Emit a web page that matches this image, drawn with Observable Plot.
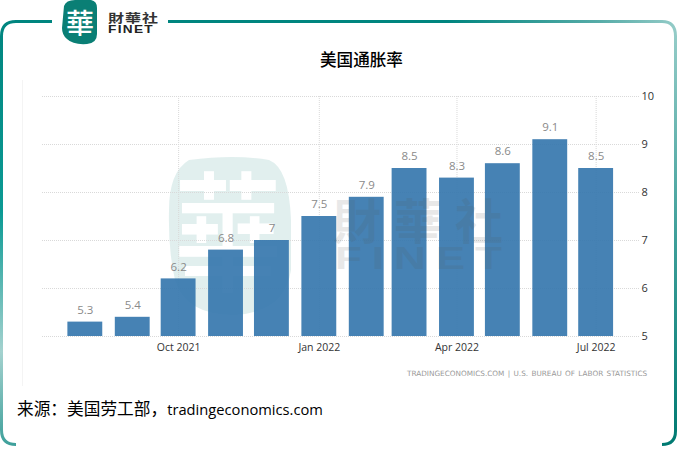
<!DOCTYPE html>
<html><head><meta charset="utf-8">
<script src="https://cdn.jsdelivr.net/npm/d3@7"></script>
<script src="https://cdn.jsdelivr.net/npm/@observablehq/plot@0.6"></script>
<style>
html,body{margin:0;padding:0;background:#fff}
#page{position:relative;width:678px;height:466px;overflow:hidden;font-family:"Noto Sans CJK SC","Noto Sans",sans-serif}
#page>*{position:absolute}
#chart{left:0;top:0}
#title{left:320px;top:49px;font-size:16.6px;font-weight:500;color:#000;line-height:20px;white-space:nowrap}
#source{left:17px;top:397px;font-size:16.7px;line-height:22px;color:#000;white-space:nowrap}
#source span{font-family:"Open Sans",sans-serif;font-size:14.7px}
#credit{left:407px;top:369px;font:7.3px/10px "DejaVu Sans",sans-serif;color:#999;white-space:nowrap;word-spacing:1px}
.wm{color:#555;opacity:.13;white-space:nowrap;transform-origin:left center}
</style></head><body>
<div id="page">
<svg id="frame" width="678" height="466" style="left:0;top:0">
<defs>
<linearGradient id="gl" x1="0" y1="0" x2="0" y2="1"><stop offset="0" stop-color="#00857f"/><stop offset=".45" stop-color="#0b9a94"/><stop offset=".78" stop-color="#a4d2cf"/><stop offset="1" stop-color="#3fa09b"/></linearGradient>
<linearGradient id="gb" x1="0" y1="0" x2="1" y2="0"><stop offset="0" stop-color="#52aaa6"/><stop offset=".2" stop-color="#00857f"/><stop offset="1" stop-color="#007a72"/></linearGradient>
<linearGradient id="gr" x1="0" y1="0" x2="0" y2="1"><stop offset="0" stop-color="#93cbc7"/><stop offset=".5" stop-color="#3d9e99"/><stop offset="1" stop-color="#007a72"/></linearGradient>
<linearGradient id="gt" x1="0" y1="0" x2="1" y2="0"><stop offset="0" stop-color="#00857f"/><stop offset=".55" stop-color="#00857f"/><stop offset=".85" stop-color="#57aca8"/><stop offset="1" stop-color="#93cbc7"/></linearGradient>
</defs>
<path d="M52 21.5H16Q1.5 21.5 1.5 36V430Q1.5 444.5 16 444.5" fill="none" stroke="url(#gl)" stroke-width="3"/>
<path d="M16 444.5H662" fill="none" stroke="url(#gb)" stroke-width="3"/>
<path d="M662 444.5Q675.5 444.5 675.5 431V36" fill="none" stroke="url(#gr)" stroke-width="3"/>
<path d="M675.5 36Q675.5 21.5 662 21.5H168" fill="none" stroke="url(#gt)" stroke-width="3"/>
<path d="M22.5 80V386" stroke="#f4f4f4" stroke-width="1"/>
</svg>
<svg width="130" height="170" style="left:165px;top:150px"><path d="M4 60Q4 22 24 10Q70 4 104 10Q124 18 126 70V120Q120 162 70 165Q20 165 10 130Q3 100 4 60Z" fill="#0a7f75" opacity=".12"/></svg>
<div style="left:172px;top:150px;width:112px;text-align:center;font:500 108px/150px 'Noto Sans CJK TC';color:#fff;transform:scaleY(1.2)">華</div>
<div id="chart"></div>
<div class="wm" style="left:333px;top:188px;font:700 48px/60px 'Noto Sans CJK TC';letter-spacing:13px">財華社</div>
<div class="wm" style="left:335px;top:239px;font:700 31px/40px 'Liberation Sans';letter-spacing:7px;transform:scaleX(1.42)">FINET</div>
<svg width="42" height="46" style="left:61px;top:0"><path d="M3 6Q5 0 14 0H30Q36 1 36 8V34Q36 43 26 44Q12 45 6 39Q1 35 1 28Z" fill="#0a7f75"/></svg>
<div style="left:64px;top:2px;width:32px;text-align:center;font:500 28px/40px 'Noto Sans CJK TC';color:#fff">華</div>
<div style="left:108px;top:9px;font:700 16px/18px 'Noto Sans CJK TC';color:#333;letter-spacing:1px;white-space:nowrap;transform:scaleY(.78)">財華社</div>
<div style="left:108px;top:23px;font:700 10.5px/13px 'Liberation Sans';color:#222;letter-spacing:1px;white-space:nowrap;transform:scaleX(1.3);transform-origin:left center">FINET</div>
<div id="title">美国通胀率</div>
<div id="credit">TRADINGECONOMICS.COM | U.S. BUREAU OF LABOR STATISTICS</div>
<div id="source">来源：美国劳工部，<span>tradingeconomics.com</span></div>
</div>
<script>
const months=["2021-08-01","2021-09-01","2021-10-01","2021-11-01","2021-12-01","2022-01-01","2022-02-01","2022-03-01","2022-04-01","2022-05-01","2022-06-01","2022-07-01"];
const rates=[5.3,5.4,6.2,6.8,7,7.5,7.9,8.5,8.3,8.6,9.1,8.5];
const rateLabels=["5.3","5.4","6.2","6.8","7","7.5","7.9","8.5","8.3","8.6","9.1","8.5"];
const tickMonths=["2021-10-01","2022-01-01","2022-04-01","2022-07-01"];
const tickLabels=["Oct 2021","Jan 2022","Apr 2022","Jul 2022"];
const yTicks=[5,6,7,8,9,10];
const xDomain=["2021-07-04","2022-07-30"];
const barHalfDays=11.4;
const dates=months.map(d=>new Date(d));
const ticks=tickMonths.map(d=>new Date(d));
const table=dates.map((d,i)=>({date:d,rate:rates[i],label:rateLabels[i]}));
const shift=(d,n)=>new Date(+d+n*864e5);
const chart=Plot.plot({
  width:678,height:466,marginLeft:42,marginRight:38,marginTop:96,marginBottom:130,
  style:{background:"transparent",fontFamily:"'Open Sans',sans-serif"},
  x:{type:"utc",domain:xDomain.map(d=>new Date(d)),axis:null},
  y:{domain:[5,10],axis:null},
  marks:[
    Plot.ruleY(yTicks,{stroke:"#d9d9d9",strokeDasharray:"1 1",strokeWidth:1}),
    Plot.ruleX(ticks,{stroke:"#d9d9d9",strokeDasharray:"1 1",strokeWidth:1}),
    Plot.rectY(table,{x1:d=>shift(d.date,-barHalfDays),x2:d=>shift(d.date,barHalfDays),y1:5,y2:"rate",fill:"#3677ae",fillOpacity:.92}),
    Plot.text(table,{x:"date",y:"rate",text:"label",dy:-12,fontSize:11.5,fill:"#8a8a8a"}),
    Plot.text(ticks,{x:d=>d,y:5,text:(d,i)=>tickLabels[i],dy:11,fontSize:10.5,fill:"#333",lineAnchor:"middle"}),
    Plot.text(yTicks,{x:()=>new Date(xDomain[1]),y:d=>d,text:d=>String(d),dx:1,textAnchor:"start",fontSize:11,fill:"#333"})
  ]
});
document.getElementById("chart").appendChild(chart);
</script>
</body></html>
